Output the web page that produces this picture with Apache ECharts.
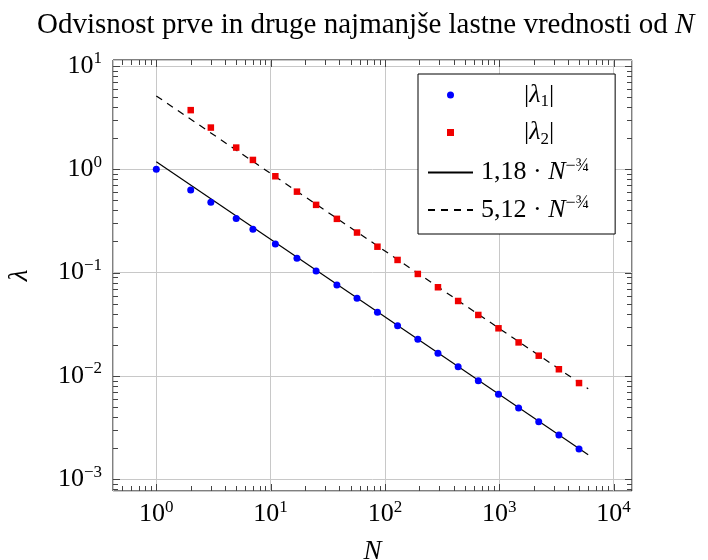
<!DOCTYPE html>
<html>
<head>
<meta charset="utf-8">
<script src="https://cdn.jsdelivr.net/npm/echarts@6/dist/echarts.min.js"></script>
<style>
  html, body { margin: 0; padding: 0; background: #fff; }
  #chart { width: 708px; height: 560px; }
</style>
</head>
<body>
<div id="chart"></div>
<script>
  // N values and the two smallest eigenvalues
  const nValues = [1, 2, 3, 5, 7, 11, 17, 25, 38, 57, 86, 129, 194, 291, 437, 656, 985, 1477, 2216, 3325, 4988];
  const lambda1 = [1.0, 0.63, 0.48, 0.333, 0.263, 0.189, 0.1375, 0.1037, 0.0759, 0.0564, 0.0413, 0.0306,
                   0.0226, 0.01655, 0.0123, 0.0090, 0.00666, 0.00489, 0.0036, 0.00268, 0.00196];
  const nValues2 = nValues.slice(1);
  const lambda2 = [3.73, 2.53, 1.62, 1.23, 0.855, 0.607, 0.452, 0.331, 0.244, 0.178, 0.1325, 0.097,
                   0.0721, 0.0531, 0.0389, 0.0289, 0.0211, 0.0157, 0.0116, 0.00853];
  // end points of the fitted lines
  const fitN = [1, 6000];
  const fit1 = [1.18, 0.00173];
  const fit2 = [5.12, 0.00751];

  const xMin = 0.418, xMax = 14500;
  const yMin = 0.00077, yMax = 11.4;

  const FONT = 'Liberation Serif';

  const pairs = (xs, ys) => xs.map((x, i) => [x, ys[i]]);

  function powLabel(v) {
    const e = Math.round(Math.log10(v));
    return '{b|10}{e|' + (e < 0 ? '\u2212' + (-e) : e) + '}';
  }
  const labelRich = {
    b: { fontFamily: FONT, fontSize: 26, color: '#000' },
    e: { fontFamily: FONT, fontSize: 17, color: '#000', verticalAlign: 'top', padding: [0, 0, 14, 0] }
  };

  const legendText = {
    'l1': '{g|}{t||}{i|λ}{s|1}{t||}',
    'l2': '{g|}{t||}{i|λ}{s|2}{t||}',
    'f1': '{h|}{t|1,18 · }{i|N}{p|\u2212¾}',
    'f2': '{h|}{t|5,12 · }{i|N}{p|\u2212¾}'
  };

  const chart = echarts.init(document.getElementById('chart'));

  const option = {
    animation: false,
    title: {
      text: '{t|Odvisnost prve in druge najmanjše lastne vrednosti od }{i|N}',
      left: 32,
      top: 6,
      textStyle: {
        fontFamily: FONT, fontSize: 29, fontWeight: 'normal', color: '#000',
        rich: {
          t: { fontFamily: FONT, fontSize: 29, color: '#000' },
          i: { fontFamily: FONT, fontSize: 29, fontStyle: 'italic', color: '#000' }
        }
      }
    },
    grid: {
      left: 113, top: 60, width: 519, height: 431,
      outerBoundsMode: 'none',
      containLabel: false,
      show: true, borderColor: '#000', borderWidth: 1
    },
    xAxis: {
      type: 'log', logBase: 10, min: xMin, max: xMax,
      name: 'N', nameLocation: 'middle', nameGap: 47,
      nameTextStyle: { fontFamily: FONT, fontSize: 27, fontStyle: 'italic', color: '#000' },
      axisLine: { show: false },
      axisTick: { show: false },
      splitLine: { show: true, lineStyle: { color: '#c8c8c8', width: 1 } },
      axisLabel: { formatter: powLabel, rich: labelRich, margin: 8, showMinLabel: false, showMaxLabel: false }
    },
    yAxis: {
      type: 'log', logBase: 10, min: yMin, max: yMax,
      name: 'λ', nameLocation: 'middle', nameGap: 80, nameRotate: 90,
      nameTextStyle: { fontFamily: FONT, fontSize: 27, fontStyle: 'italic', color: '#000' },
      axisLine: { show: false },
      axisTick: { show: false },
      splitLine: { show: true, lineStyle: { color: '#c8c8c8', width: 1 } },
      axisLabel: { formatter: powLabel, rich: labelRich, margin: 11, showMinLabel: false, showMaxLabel: false }
    },
    legend: {
      orient: 'vertical',
      left: 418, top: 74,
      padding: [8, 26, 11, 9],
      itemWidth: 45, itemHeight: 7, itemGap: 9,
      backgroundColor: '#fff', borderColor: '#000', borderWidth: 1, borderRadius: 0,
      selectedMode: false,
      data: [
        { name: 'l1', icon: 'circle' },
        { name: 'l2', icon: 'path://M0 0h10v10h-10z' },
        { name: 'f1', itemStyle: { color: 'rgba(0,0,0,0)', borderWidth: 0 } },
        { name: 'f2', itemStyle: { color: 'rgba(0,0,0,0)', borderWidth: 0 } }
      ],
      formatter: name => legendText[name],
      textStyle: {
        color: '#000',
        rich: {
          g: { width: 46 },
          h: { width: 3 },
          t: { fontFamily: FONT, fontSize: 26, lineHeight: 31, color: '#000' },
          i: { fontFamily: FONT, fontSize: 26, lineHeight: 31, fontStyle: 'italic', color: '#000' },
          s: { fontFamily: FONT, fontSize: 17, lineHeight: 18, verticalAlign: 'bottom', color: '#000' },
          p: { fontFamily: FONT, fontSize: 18, lineHeight: 18, verticalAlign: 'top', color: '#000' }
        }
      }
    },
    series: [
      {
        name: 'l1', type: 'scatter', data: pairs(nValues, lambda1),
        symbol: 'circle', symbolSize: 7, itemStyle: { color: '#0000ff', opacity: 1 }, z: 3
      },
      {
        name: 'l2', type: 'scatter', data: pairs(nValues2, lambda2),
        symbol: 'rect', symbolSize: 6.5, itemStyle: { color: '#f00000', opacity: 1 }, z: 3
      },
      {
        name: 'f1', type: 'line', data: pairs(fitN, fit1), symbol: 'none',
        lineStyle: { color: '#000', width: 1.2 }, itemStyle: { color: '#000' }, z: 2
      },
      {
        name: 'f2', type: 'line', data: pairs(fitN, fit2), symbol: 'none',
        lineStyle: { color: '#000', width: 1.2, type: [7, 6] }, itemStyle: { color: '#000' }, z: 2
      }
    ]
  };

  chart.setOption(option);

  // inward major/minor ticks on all four sides, positioned by the axes' own scales
  function tickValues(lo, hi) {
    const out = [];
    for (let d = Math.floor(Math.log10(lo)); d <= Math.ceil(Math.log10(hi)); d++) {
      for (let k = 1; k <= 9; k++) {
        const v = k * Math.pow(10, d);
        if (v > lo * 1.0001 && v < hi * 0.9999) out.push({ v: v, major: k === 1 });
      }
    }
    return out;
  }

  function drawTicks() {
    const px = v => chart.convertToPixel({ xAxisIndex: 0 }, v);
    const py = v => chart.convertToPixel({ yAxisIndex: 0 }, v);
    const left = px(xMin), right = px(xMax), bottom = py(yMin), top = py(yMax);
    const els = [];
    const stroke = { stroke: '#444', lineWidth: 1 };
    tickValues(xMin, xMax).forEach(t => {
      const x = Math.round(px(t.v)) + 0.5;
      const len = t.major ? 7 : 5;
      els.push({ type: 'line', silent: true, z: 10, shape: { x1: x, y1: bottom, x2: x, y2: bottom - len }, style: stroke });
      els.push({ type: 'line', silent: true, z: 10, shape: { x1: x, y1: top, x2: x, y2: top + len }, style: stroke });
    });
    tickValues(yMin, yMax).forEach(t => {
      const y = Math.round(py(t.v)) + 0.5;
      const len = t.major ? 7 : 5;
      els.push({ type: 'line', silent: true, z: 10, shape: { x1: left, y1: y, x2: left + len, y2: y }, style: stroke });
      els.push({ type: 'line', silent: true, z: 10, shape: { x1: right, y1: y, x2: right - len, y2: y }, style: stroke });
    });
    chart.setOption({ graphic: { elements: els } });
  }

  drawTicks();
</script>
</body>
</html>
